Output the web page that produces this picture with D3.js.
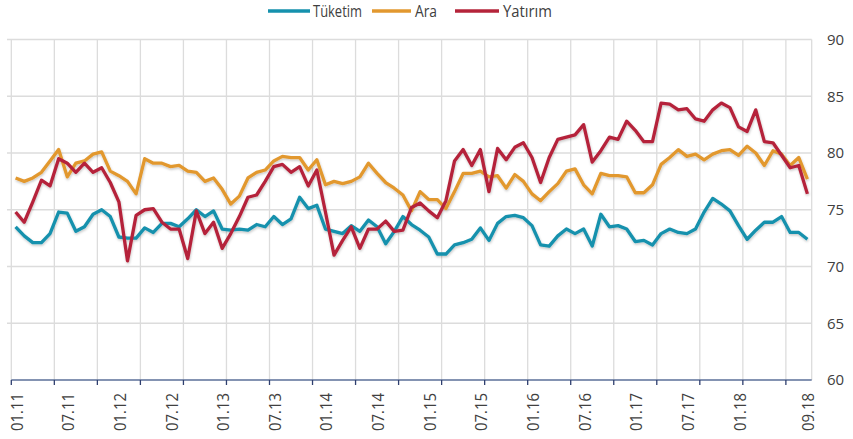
<!DOCTYPE html>
<html><head><meta charset="utf-8">
<script src="https://cdn.jsdelivr.net/npm/d3@7"></script>
<style>body{margin:0;background:#fff;} svg{display:block;}</style>
</head><body>
<script>
const seriesNames = ["Tüketim", "Ara", "Yatırım"];
const colors = ["#1591ad", "#e2982f", "#b5243a"];
const startYear = 2011, startMonth = 1, nMonths = 93;
const months = d3.range(nMonths).map(i => {
  const m = (startMonth - 1 + i) % 12 + 1, y = startYear + Math.floor((startMonth - 1 + i) / 12);
  return String(m).padStart(2, "0") + "." + String(y % 100).padStart(2, "0");
});
const tuketim = [73.5,72.7,72.1,72.1,72.9,74.8,74.7,73.1,73.5,74.6,75.0,74.4,72.6,72.5,72.5,73.4,73.0,73.8,73.8,
  73.5,74.2,75.0,74.4,74.9,73.3,73.2,73.3,73.2,73.7,73.5,74.4,73.7,74.2,76.1,75.1,75.4,73.3,73.1,
  72.9,73.6,73.1,74.1,73.5,72.0,73.1,74.4,73.7,73.2,72.6,71.1,71.1,71.9,72.1,72.4,73.4,72.3,
  73.8,74.4,74.5,74.3,73.6,71.9,71.8,72.7,73.3,72.9,73.3,71.8,74.6,73.5,73.6,73.3,72.2,72.3,71.9,
  72.9,73.3,73.0,72.9,73.3,74.8,76.0,75.5,74.9,73.6,72.4,73.2,73.9,73.9,74.4,73.0,73.0,72.4];
const ara = [77.8,77.5,77.8,78.3,79.3,80.3,77.9,79.1,79.3,79.9,80.1,78.4,78.0,77.5,76.4,79.5,79.1,79.1,78.8,
  78.9,78.4,78.3,77.5,77.8,76.8,75.5,76.2,77.8,78.3,78.5,79.3,79.7,79.6,79.6,78.5,79.4,77.2,77.5,
  77.3,77.5,77.9,79.1,78.2,77.4,76.9,76.3,74.9,76.6,75.9,75.9,75.1,76.6,78.2,78.2,78.4,77.9,
  78.0,76.9,78.1,77.5,76.4,75.8,76.6,77.3,78.4,78.6,77.2,76.4,78.2,78.0,78.0,77.9,76.5,76.5,77.2,
  79.0,79.6,80.3,79.7,79.9,79.4,79.9,80.2,80.3,79.8,80.6,80.0,78.9,80.2,79.9,78.9,79.6,77.7];
const yatirim = [74.8,73.9,75.7,77.6,77.1,79.5,79.1,78.3,79.1,78.3,78.7,77.4,75.7,70.5,74.5,75.0,75.1,73.9,73.3,
  73.3,70.7,74.9,72.9,73.9,71.6,72.9,74.4,76.1,76.3,77.5,78.8,79.0,78.3,78.8,77.1,78.5,74.8,71.0,
  72.3,73.5,71.6,73.3,73.3,74.0,73.1,73.2,75.2,75.6,74.9,74.3,75.8,79.3,80.3,78.9,80.3,76.6,
  80.4,79.4,80.5,80.9,79.6,77.4,79.6,81.2,81.4,81.6,82.5,79.2,80.2,81.4,81.2,82.8,82.0,81.0,81.0,
  84.4,84.3,83.8,83.9,83.0,82.8,83.8,84.4,84.0,82.3,81.9,83.8,81.0,80.9,79.8,78.7,78.9,76.4];
const yTicks = [60, 65, 70, 75, 80, 85, 90];
const labelEvery = 6, tickEvery = 5;

const W = 853, H = 439;
const svg = d3.select("body").append("svg").attr("width", W).attr("height", H);
const defs = svg.append("defs");
const f = defs.append("filter").attr("id", "sh").attr("x", "-5%").attr("y", "-10%").attr("width", "110%").attr("height", "130%");
f.append("feDropShadow").attr("dx", 0.5).attr("dy", 1.5).attr("stdDeviation", 1).attr("flood-color", "#000").attr("flood-opacity", 0.22);

const x = d3.scaleBand().domain(d3.range(nMonths)).range([11.3, 811.7]).paddingInner(0).paddingOuter(0);
const y = d3.scaleLinear().domain([60, 90]).range([380, 39.5]);
const xc = i => x(i) + x.bandwidth() / 2;

// horizontal gridlines
svg.append("g").selectAll("line").data(yTicks.filter(t => t > 60)).join("line")
  .attr("x1", 7).attr("x2", 811.7).attr("y1", d => y(d)).attr("y2", d => y(d))
  .attr("stroke", "#dcdcdc").attr("stroke-width", 1.3);
// vertical gridlines at tick boundaries
const vb = d3.range(0, nMonths, tickEvery);
svg.append("g").selectAll("line").data(vb.concat([nMonths])).join("line")
  .attr("x1", d => d === nMonths ? x.range()[1] : x(d)).attr("x2", d => d === nMonths ? x.range()[1] : x(d))
  .attr("y1", y(90)).attr("y2", y(60))
  .attr("stroke", "#dcdcdc").attr("stroke-width", 1.3);

// x axis line + ticks
svg.append("line").attr("x1", 11.3).attr("x2", 811.7).attr("y1", y(60)).attr("y2", y(60))
  .attr("stroke", "#5b6f99").attr("stroke-width", 1.5);
svg.append("g").selectAll("line").data(vb).join("line")
  .attr("x1", d => x(d)).attr("x2", d => x(d)).attr("y1", y(60)).attr("y2", y(60) + 5)
  .attr("stroke", "#2f3f6f").attr("stroke-width", 1.3);

// x labels (every 6 months, plus the last month; skip ones that would collide with it)
const lab = d3.range(0, nMonths, labelEvery).filter(d => nMonths - 1 - d >= labelEvery).concat([nMonths - 1]);
svg.append("g").selectAll("text").data(lab).join("text")
  .attr("transform", d => `translate(${xc(d) + 7},393) rotate(-90)`)
  .attr("text-anchor", "end")
  .attr("font-family", "Open Sans, sans-serif").attr("font-size", 17).attr("fill", "#404040")
  .attr("textLength", 38).attr("lengthAdjust", "spacingAndGlyphs")
  .text(d => months[d]);

// y labels right
svg.append("g").selectAll("text").data(yTicks).join("text")
  .attr("x", 827).attr("y", d => y(d)).attr("dy", "0.35em")
  .attr("font-family", "Open Sans, sans-serif").attr("font-size", 15).attr("fill", "#404040")
  .text(d => d);

// lines
const data = [tuketim, ara, yatirim];
const line = d3.line().x((d, i) => xc(i)).y(d => y(d));
svg.append("g").attr("filter", "url(#sh)").selectAll("path").data(data).join("path")
  .attr("d", line).attr("fill", "none")
  .attr("stroke", (d, i) => colors[i]).attr("stroke-width", 3.3).attr("stroke-linejoin", "round");

// legend
const leg = [{x1: 268, x2: 310, tx: 313, tl: 49}, {x1: 372, x2: 411, tx: 415, tl: 22}, {x1: 455, x2: 499, tx: 503, tl: 49}];
const lg = svg.append("g");
seriesNames.forEach((n, i) => {
  lg.append("line").attr("x1", leg[i].x1).attr("x2", leg[i].x2).attr("y1", 11).attr("y2", 11)
    .attr("stroke", colors[i]).attr("stroke-width", 3.5);
  lg.append("text").attr("x", leg[i].tx).attr("y", 11).attr("dy", "0.36em")
    .attr("font-family", "Open Sans, sans-serif").attr("font-size", 16).attr("fill", "#404040")
    .attr("textLength", leg[i].tl).attr("lengthAdjust", "spacingAndGlyphs").text(n);
});
</script>
</body></html>
